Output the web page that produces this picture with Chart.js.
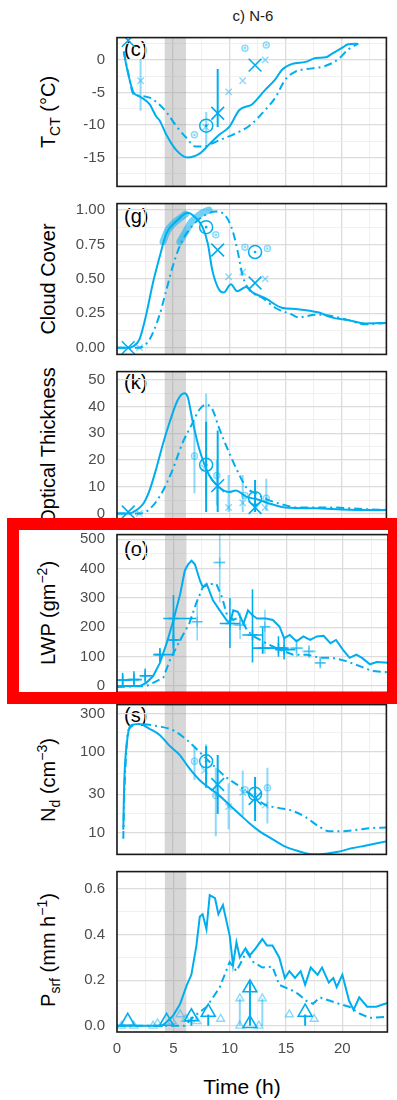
<!DOCTYPE html>
<html>
<head>
<meta charset="utf-8">
<script src="https://cdn.jsdelivr.net/npm/chart.js@4.4.1/dist/chart.umd.min.js"></script>
<style>
body{margin:0;background:#fff;width:397px;height:1100px;position:relative;overflow:hidden;font-family:"Liberation Sans",Arial,sans-serif}
canvas{position:absolute;left:0}
.ytitle{position:absolute;left:48px;transform:translate(-50%,-50%) rotate(-90deg);white-space:nowrap;font-size:20px;line-height:22px;color:#000}
.ytitle sub,.ytitle sup{font-size:14px;line-height:0}
.plab{position:absolute;left:124px;font-size:20px;line-height:20px;color:#000}
#title{position:absolute;left:253px;top:7px;transform:translateX(-50%);font-size:15px;color:#1a1a1a}
#xtitle{position:absolute;left:242px;top:1075px;transform:translateX(-50%);font-size:21px;color:#000}
#redbox{position:absolute;left:7px;top:518px;width:393px;height:186px;border:12px solid #f00;box-sizing:border-box;z-index:5}
</style>
</head>
<body>
<div id="title">c) N-6</div>
<div class="ytitle" style="top:112px">T<sub>CT</sub> (°C)</div>
<div class="ytitle" style="top:279px">Cloud Cover</div>
<div class="ytitle" style="top:446px">Optical Thickness</div>
<div class="ytitle" style="top:613px">LWP (gm<sup>−2</sup>)</div>
<div class="ytitle" style="top:780px">N<sub>d</sub> (cm<sup>−3</sup>)</div>
<div class="ytitle" style="top:950px">P<sub>srf</sub> (mm h<sup>−1</sup>)</div>
<div class="plab" style="top:39px">(c)</div>
<div class="plab" style="top:206px">(g)</div>
<div class="plab" style="top:372px">(k)</div>
<div class="plab" style="top:539px">(o)</div>
<div class="plab" style="top:705px">(s)</div>
<div id="xtitle">Time (h)</div>
<div id="redbox"></div>
<script>
// shaded period (h)
const shadeRange = [4.25, 6.15];

// (c) cloud top temperature
const tctSolid = [[0.6,1.3],[0.85,-1.0],[1.45,-4.9],[2.0,-5.6],[2.9,-6.8],[3.5,-8.7],[3.8,-9.3],[4.4,-11.5],[5.3,-13.9],[6.3,-15.0],[7.35,-14.4],[8.2,-13.0],[9.1,-11.5],[10.0,-10.3],[10.9,-7.7],[12.05,-6.8],[13.2,-4.6],[14.1,-3.0],[14.7,-1.5],[15.6,-0.6],[16.8,-0.3],[17.7,0.3],[18.6,0.4],[19.1,0.9],[20.0,1.8],[20.6,2.4],[21.4,2.5]];
const tctDash = [[0.6,1.3],[1.0,-2.0],[1.45,-5.2],[2.0,-5.5],[2.9,-5.8],[3.6,-6.6],[4.4,-8.0],[5.3,-10.2],[6.2,-12.0],[7.0,-13.3],[7.6,-13.3],[8.5,-12.8],[9.3,-12.2],[10.3,-11.5],[11.8,-10.1],[13.2,-7.7],[14.1,-5.8],[15.0,-3.0],[15.9,-1.8],[17.4,-1.3],[18.6,-0.9],[19.7,0.1],[20.6,1.6],[21.5,2.5]];
const tctBigX = [[1.0,3.0],[8.97,-8.2],[12.3,-0.8]];
const tctSmallX = [[2.1,-3.2],[7.9,-10.3],[9.95,-4.9],[11.2,-3.2],[13.2,0.0]];
const tctBigO = [[7.95,-10.1]];
const tctSmallO = [[6.9,-11.5],[11.4,1.8],[13.3,2.3]];
const tctErrDark = [[8.97,-10.3,-1.4]];
const tctErrLight = [[2.1,-7.8,0.1],[7.95,-12.9,-8.0]];

// (g) cloud cover
const ccSolid = [[0,0],[1.0,0],[1.44,0.01],[2.0,0.06],[2.6,0.24],[3.2,0.47],[3.8,0.66],[4.4,0.83],[5.3,0.92],[6.3,0.98],[7.05,0.94],[7.6,0.88],[8.08,0.76],[8.5,0.56],[9.1,0.42],[9.5,0.40],[10.15,0.46],[10.7,0.41],[11.5,0.44],[12.1,0.40],[13.2,0.36],[14.7,0.29],[16.1,0.28],[18.0,0.255],[19.1,0.22],[20.6,0.20],[22.1,0.176],[24,0.18]];
const ccDash = [[0,0],[2.0,0],[2.9,0.06],[3.8,0.24],[4.4,0.42],[5.0,0.6],[5.7,0.76],[6.75,0.89],[7.9,0.966],[8.8,0.99],[9.7,0.955],[10.3,0.85],[10.75,0.7],[11.2,0.52],[11.8,0.42],[13.0,0.36],[14.1,0.29],[15.6,0.24],[16.2,0.22],[17.7,0.24],[19.1,0.23],[20.6,0.2],[22.1,0.17],[24,0.18]];
const ccBand1 = [[4.1,0.77],[4.5,0.85],[5.0,0.9],[5.6,0.94],[6.1,0.97]];
const ccBand2 = [[5.6,0.77],[6.1,0.84],[6.6,0.91],[7.1,0.95],[7.6,0.98],[8.2,1.0]];
const ccBigX = [[1.0,0.0],[8.97,0.71],[12.3,0.47]];
const ccSmallX = [[2.0,0.0],[9.94,0.515],[11.2,0.55],[13.2,0.5]];
const ccBigO = [[7.94,0.876],[12.3,0.695]];
const ccSmallO = [[8.8,0.82],[11.4,0.73],[13.4,0.72]];

// (k) optical thickness
const tauSolid = [[0,0],[1.0,0],[1.44,0.5],[2.4,4],[2.9,8.6],[3.5,16.8],[4.1,26.1],[4.7,34.3],[5.4,42.4],[6.0,45.0],[6.3,43.6],[6.75,34.3],[7.35,23.8],[8.2,14.4],[9.1,9.8],[10.0,8.0],[10.6,8.6],[11.5,6.3],[12.6,5.1],[13.8,3.4],[15.0,2.2],[17.7,1.9],[20.6,1.4],[24,1.3]];
const tauDash = [[0,0],[2.0,0],[2.6,0.6],[3.8,6.3],[5.0,16.8],[5.8,26],[6.75,34],[7.35,38.9],[7.94,40.7],[8.5,38.9],[9.1,31.9],[10.0,22.6],[10.9,14.4],[11.5,9.8],[12.4,7.3],[13.2,5.5],[14.7,3.4],[16.2,2.2],[19.1,2.2],[22,1.6],[24,1.3]];
const tauBigX = [[1.0,0.5],[8.97,10.4],[12.3,2.2]];
const tauSmallX = [[2.0,0],[7.8,17],[9.94,2.2],[11.2,4.0],[13.2,2.2]];
const tauBigO = [[7.94,18.2],[12.3,5.7]];
const tauSmallO = [[6.9,21.5],[8.9,14.2],[11.4,6.7],[13.3,5.7]];
const tauErrDark = [[7.94,0.5,34.3],[8.97,0.5,31],[12.3,0.5,12.5]];
const tauErrLight = [[6.9,7.5,34.3],[7.94,6.3,44.9],[8.9,3,20],[9.94,0.5,14.4],[11.2,0.5,14.4],[13.3,1,13]];

// (o) liquid water path
const lwpSolid = [[0,0],[2.0,0],[2.6,11],[3.2,34],[3.8,79],[4.4,146],[5.0,225],[5.6,314],[6.0,393],[6.3,415],[6.6,427],[6.9,415],[7.35,359],[7.6,337],[7.94,348],[8.5,292],[9.1,258],[9.7,225],[10.0,213],[10.3,258],[10.7,253],[11.2,213],[11.6,258],[12.0,241],[12.4,230],[13.2,230],[13.8,225],[14.4,202],[14.8,163],[15.3,174],[15.9,152],[16.5,169],[17.1,157],[17.7,169],[18.3,171],[18.9,146],[19.4,157],[20.0,124],[20.6,96],[21.2,107],[21.7,96],[22.4,74],[23.0,82],[24,79]];
const lwpDash = [[0,-3],[2.6,0],[3.2,11],[4.1,28],[4.7,90],[5.6,157],[6.4,213],[7.0,281],[7.6,337],[8.2,348],[8.8,348],[9.3,303],[9.7,247],[10.3,225],[10.9,236],[11.5,191],[12.1,169],[13.2,146],[14.4,124],[15.6,107],[16.8,107],[18.0,96],[19.1,96],[20.3,85],[21.5,68],[22.6,51],[24,47]];
// [time, value, time low, time high, value low, value high]
const lwpObsDark = [[0.5,20,0,1.2,0,45],[1.5,22,0.9,2.2,0,50],[2.5,35,2.0,3.2,10,60],[3.8,107,3.2,5.1,80,130],[5.0,157,4.4,5.7,105,230],[5.0,230,4.1,7.0,130,310],[10.0,213,9.1,10.9,130,300],[12.0,174,11.1,12.9,80,330],[12.9,129,12.0,15.0,110,200],[14.3,129,13.3,15.2,100,170],[14.8,124,14.0,15.8,90,160]];
const lwpObsLight = [[7.1,219,6.6,7.6,155,290],[9.1,421,8.5,9.6,285,520],[10.9,208,10.3,11.5,160,250],[13.1,202,12.6,13.6,110,260],[15.9,129,15.3,16.5,100,160],[17.0,118,16.4,17.6,95,140],[18.0,79,17.5,18.5,60,100]];

// (s) droplet number
const ndSolid = [[0.56,10.9],[0.62,30],[0.7,64],[0.95,156],[1.2,212],[2.0,222],[2.9,194],[3.8,163],[4.7,119],[5.6,91.6],[6.4,64],[7.35,45],[8.2,36],[9.1,29],[10.0,22.2],[10.9,17],[11.8,13.1],[12.7,10.4],[13.8,8.4],[15.0,6.7],[16.2,5.9],[17.4,5.4],[18.6,5.5],[19.7,5.8],[20.9,6.4],[22.1,6.9],[24,7.8]];
const ndDash = [[0.56,8.4],[0.65,30],[0.75,64],[1.0,186],[2.0,222],[3.8,207],[5.0,186],[6.2,142],[7.35,100],[8.5,70],[9.7,49],[10.9,37.7],[12.0,29],[13.2,22.2],[14.4,20.3],[15.6,18.7],[16.8,15.6],[18.0,11.9],[18.9,10.4],[20.0,10.4],[21.5,10.9],[22.6,11.4],[24,11.6]];
const ndBigX = [[8.97,39.5],[12.3,26.5]];
const ndSmallX = [[7.8,59],[9.94,21],[11.2,31.6],[13.2,22]];
const ndBigO = [[7.94,76.7],[12.3,30.3]];
const ndSmallO = [[6.9,76.7],[8.8,29],[11.4,34],[13.4,36]];
const ndErrDark = [[7.94,36,119],[8.97,17,92],[12.3,14,49]];
const ndErrLight = [[6.9,45,119],[7.94,45,125],[8.8,9,64],[9.94,11,41],[11.2,16,59],[13.4,13,64]];

// surface precipitation
const prSolid = [[0,0],[4.0,0],[4.4,0.017],[5.0,0.046],[5.6,0.096],[6.2,0.18],[6.6,0.224],[7.05,0.353],[7.35,0.48],[7.6,0.49],[7.94,0.424],[8.23,0.574],[8.7,0.56],[9.0,0.49],[9.4,0.53],[10.0,0.396],[10.3,0.267],[10.6,0.367],[10.9,0.30],[11.4,0.34],[11.8,0.31],[12.3,0.34],[12.9,0.381],[13.3,0.353],[13.8,0.353],[14.4,0.30],[14.9,0.21],[15.3,0.24],[15.8,0.21],[16.3,0.24],[16.7,0.18],[17.2,0.256],[17.8,0.224],[18.2,0.256],[18.8,0.19],[19.2,0.21],[19.5,0.17],[20.0,0.224],[20.6,0.11],[21.0,0.07],[21.5,0.125],[22.2,0.084],[23.0,0.084],[24,0.1]];
const prDash = [[0,0],[6.0,0],[6.8,0.04],[7.94,0.083],[9.1,0.167],[10.0,0.28],[10.6,0.24],[11.5,0.325],[12.1,0.28],[12.9,0.256],[13.8,0.26],[14.4,0.18],[15.6,0.154],[16.1,0.139],[16.8,0.11],[17.4,0.097],[18.0,0.125],[18.9,0.11],[19.7,0.097],[20.6,0.084],[21.5,0.055],[22.4,0.035],[24,0.04]];
const prBigTri = [[0.95,0.02],[4.4,0.02],[6.6,0.04],[8.1,0.06],[11.8,0.167],[11.8,0.01],[16.7,0.06]];
const prSmallTri = [[0.4,0.0],[1.5,0.0],[3.2,0.0],[3.6,0.01],[4.9,0.02],[5.6,0.05],[6.1,0.03],[7.1,0.02],[9.2,0.03],[10.9,0.12],[12.9,0.12],[10.9,0.0],[12.6,0.0],[15.3,0.05],[17.5,0.03]];
const prErrDark = [[11.8,0.0,0.2],[6.6,0.0,0.04],[8.1,0.0,0.05],[16.7,0.0,0.05]];
const prErrLight = [[10.9,0.0,0.12],[12.9,0.0,0.12]];

const xMajor = [0, 5, 10, 15, 20];
const xMinor = [2.5, 7.5, 12.5, 17.5, 22.5];

const DARK = '#00aeef';
const LIGHT = 'rgba(0,174,239,0.45)';
const BAND = 'rgba(0,174,239,0.55)';
const pts = l => l.map(([x, y]) => ({x, y}));

function curve(list, dashed, smooth) {
  return {data: pts(list), borderColor: DARK, borderWidth: 2, pointRadius: 0,
    borderDash: dashed ? [8, 4, 2, 4] : [], cubicInterpolationMode: smooth ? 'monotone' : 'default', tension: 0};
}
function band(list) {
  return {data: pts(list), borderColor: BAND, borderWidth: 7, pointRadius: 0, borderCapStyle: 'round', cubicInterpolationMode: 'monotone'};
}
function marks(list, style, r, color, w) {
  return {data: pts(list), showLine: false, pointStyle: style, pointRadius: r,
    pointBorderColor: color, pointBackgroundColor: 'rgba(0,0,0,0)', pointBorderWidth: w};
}
function circles(list, r, color) {
  return [marks(list, 'circle', r, color, 1.5), marks(list, 'circle', 0.8, color, 1.2)];
}
function vbars(list, color) {
  return list.map(([t, lo, hi]) => ({data: [{x: t, y: lo}, {x: t, y: hi}], borderColor: color, borderWidth: 2, pointRadius: 0}));
}
function plusBars(list, color) {
  const out = [];
  list.forEach(([t, v, tlo, thi, vlo, vhi]) => {
    out.push({data: [{x: t, y: vlo}, {x: t, y: vhi}], borderColor: color, borderWidth: 1.6, pointRadius: 0});
    out.push({data: [{x: tlo, y: v}, {x: thi, y: v}], borderColor: color, borderWidth: 1.6, pointRadius: 0});
  });
  return out;
}

const panels = [
  {top: 32, bottom: 192, min: -19.43, max: 3.43, majors: [-15, -10, -5, 0], minors: [-17.5, -12.5, -7.5, -2.5, 2.5], fmt: v => String(v),
   sets: [marks(tctBigX, 'crossRot', 9, DARK, 1.6), marks(tctSmallX, 'crossRot', 4.5, LIGHT, 1.4), ...circles(tctBigO, 6.5, DARK), ...circles(tctSmallO, 3, LIGHT),
     ...vbars(tctErrDark, DARK), ...vbars(tctErrLight, LIGHT), curve(tctSolid, false, true), curve(tctDash, true, true)]},
  {top: 198, bottom: 360, min: -0.049, max: 1.047, majors: [0, 0.25, 0.5, 0.75, 1], minors: [0.125, 0.375, 0.625, 0.875], fmt: v => v.toFixed(2),
   sets: [marks(ccBigX, 'crossRot', 9, DARK, 1.6), marks(ccSmallX, 'crossRot', 4.5, LIGHT, 1.4), ...circles(ccBigO, 6.5, DARK), ...circles(ccSmallO, 3, LIGHT),
     band(ccBand1), band(ccBand2), curve(ccSolid, false, true), curve(ccDash, true, true)]},
  {top: 366, bottom: 527, min: -3.0, max: 53.1, majors: [0, 10, 20, 30, 40, 50], minors: [5, 15, 25, 35, 45], fmt: v => String(v),
   sets: [marks(tauBigX, 'crossRot', 9, DARK, 1.6), marks(tauSmallX, 'crossRot', 4.5, LIGHT, 1.4), ...circles(tauBigO, 6.5, DARK), ...circles(tauSmallO, 3, LIGHT),
     ...vbars(tauErrDark, DARK), ...vbars(tauErrLight, LIGHT), curve(tauSolid, false, true), curve(tauDash, true, true)]},
  {top: 533, bottom: 694, min: -21.7, max: 516, majors: [0, 100, 200, 300, 400, 500], minors: [50, 150, 250, 350, 450], fmt: v => String(v),
   sets: [marks(lwpObsDark.map(o => [o[0], o[1]]), 'cross', 5, DARK, 1.6), marks(lwpObsLight.map(o => [o[0], o[1]]), 'cross', 5, LIGHT, 1.6),
     ...plusBars(lwpObsDark, DARK), ...plusBars(lwpObsLight, LIGHT), curve(lwpSolid, false, false), curve(lwpDash, true, false)]},
  {top: 699, bottom: 860, min: 5.38, max: 387, log: true, majors: [10, 30, 100, 300], minors: [5.48, 17.3, 54.8, 173], fmt: v => String(v),
   sets: [marks(ndBigX, 'crossRot', 9, DARK, 1.6), marks(ndSmallX, 'crossRot', 4.5, LIGHT, 1.4), ...circles(ndBigO, 6.5, DARK), ...circles(ndSmallO, 3, LIGHT),
     ...vbars(ndErrDark, DARK), ...vbars(ndErrLight, LIGHT), curve(ndSolid, false, true), curve(ndDash, true, true)]},
  {top: 867, bottom: 1032, min: -0.027, max: 0.677, majors: [0, 0.2, 0.4, 0.6], minors: [0.1, 0.3, 0.5], fmt: v => v.toFixed(1), last: true,
   sets: [marks(prBigTri, 'triangle', 8, DARK, 1.6), marks(prSmallTri, 'triangle', 4.6, LIGHT, 1.4),
     ...vbars(prErrDark, DARK), ...vbars(prErrLight, LIGHT), curve(prSolid, false, false), curve(prDash, true, false)]}
];

const framePlugin = {
  id: 'frame',
  beforeDatasetsDraw(chart) {
    const {ctx, chartArea: a, scales: {x}} = chart;
    const x0 = x.getPixelForValue(shadeRange[0]), x1 = x.getPixelForValue(shadeRange[1]);
    ctx.save();
    ctx.fillStyle = 'rgba(150,150,150,0.38)';
    ctx.fillRect(x0, a.top, x1 - x0, a.bottom - a.top);
    ctx.restore();
  },
  afterDatasetsDraw(chart) {
    const {ctx, chartArea: a} = chart;
    ctx.save();
    ctx.strokeStyle = '#1a1a1a';
    ctx.lineWidth = 1.6;
    ctx.strokeRect(a.left, a.top, a.right - a.left, a.bottom - a.top);
    ctx.restore();
  }
};

const tickFont = {family: '"Liberation Sans", Arial, sans-serif', size: 15};
// keep the plot areas exactly where the layout puts them
function noPad(s) { s.paddingTop = 0; s.paddingBottom = 0; s.paddingLeft = 0; s.paddingRight = 0; }

panels.forEach(p => {
  const pad = 5, xh = p.last ? 32 : 0;
  const cv = document.createElement('canvas');
  cv.width = 397;
  cv.height = p.bottom - p.top + 2 * pad + xh;
  cv.style.top = (p.top - pad) + 'px';
  document.body.insertBefore(cv, document.getElementById('redbox'));
  const yMaj = new Set(p.majors);
  const xMaj = new Set(xMajor);
  new Chart(cv, {
    type: 'line',
    data: {datasets: p.sets},
    options: {
      responsive: false, animation: false, devicePixelRatio: 1,
      layout: {padding: {top: pad, bottom: pad, left: 0, right: 9}},
      plugins: {legend: {display: false}, tooltip: {enabled: false}},
      scales: {
        x: {
          type: 'linear', min: 0, max: 24,
          afterBuildTicks: s => { s.ticks = [...xMajor, ...xMinor].sort((a, b) => a - b).map(v => ({value: v})); },
          afterFit: s => { s.height = xh; noPad(s); },
          border: {display: false},
          grid: {drawTicks: false, color: c => xMaj.has(c.tick.value) ? '#dcdcdc' : '#ececec', lineWidth: c => xMaj.has(c.tick.value) ? 1.3 : 0.8},
          ticks: {display: !!p.last, autoSkip: false, maxRotation: 0, padding: 8, color: '#4d4d4d', font: tickFont,
            callback: v => xMaj.has(v) ? String(v) : ''}
        },
        y: {
          type: p.log ? 'logarithmic' : 'linear', min: p.min, max: p.max,
          afterBuildTicks: s => { s.ticks = [...p.majors, ...p.minors].sort((a, b) => a - b).map(v => ({value: v})); },
          afterFit: s => { s.width = 117; noPad(s); },
          border: {display: false},
          grid: {drawTicks: false, color: c => yMaj.has(c.tick.value) ? '#dcdcdc' : '#ececec', lineWidth: c => yMaj.has(c.tick.value) ? 1.3 : 0.8},
          ticks: {autoSkip: false, padding: 12, color: '#4d4d4d', font: tickFont,
            callback: v => yMaj.has(v) ? p.fmt(v) : ''}
        }
      }
    },
    plugins: [framePlugin]
  });
});
</script>
</body>
</html>
